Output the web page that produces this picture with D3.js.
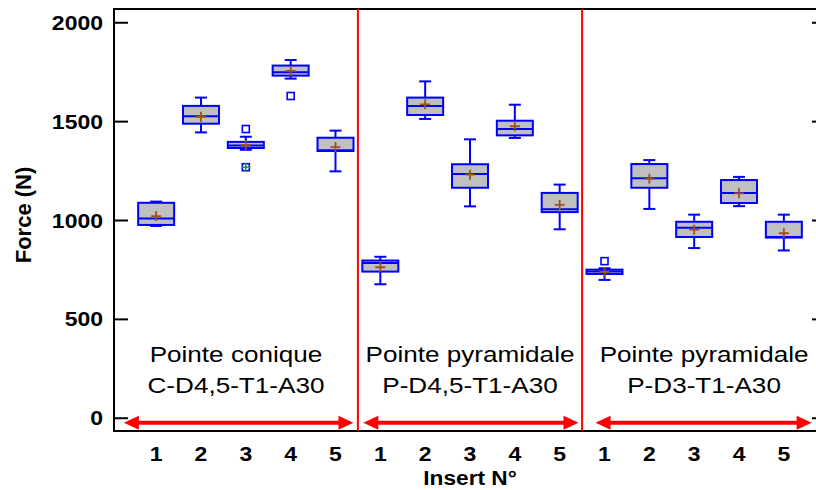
<!DOCTYPE html>
<html>
<head>
<meta charset="utf-8">
<script src="https://cdn.jsdelivr.net/npm/d3@7/dist/d3.min.js"></script>
<style>
  html, body { margin: 0; padding: 0; background: #fff; }
  svg { display: block; }
  text { font-family: "Liberation Sans", Arial, sans-serif; fill: #000; }
</style>
</head>
<body>
<svg id="chart" width="816" height="490"></svg>
<script>
// ---------- data ----------
const tickLabels = ["1","2","3","4","5","1","2","3","4","5","1","2","3","4","5"];
const whiskerLow  = [ 970, 1443, 1355, 1715, 1246,  675, 1511, 1069, 1415,  953,  697, 1056,  858, 1070,  846];
const q1          = [ 975, 1487, 1364, 1730, 1349,  739, 1531, 1163, 1428, 1040,  727, 1163,  914, 1086,  911];
const median      = [1007, 1525, 1377, 1747, 1353,  783, 1577, 1233, 1460, 1054,  740, 1211,  961, 1137,  914];
const q3          = [1087, 1577, 1395, 1781, 1416,  795, 1619, 1282, 1502, 1137,  749, 1283,  991, 1202,  991];
const whiskerHigh = [1093, 1619, 1421, 1809, 1452,  814, 1701, 1408, 1583, 1179,  756, 1303, 1027, 1218, 1027];
const means       = [1020, 1522, 1380, 1754, 1369,  761, 1585, 1229, 1474, 1076,  737, 1208,  951, 1135,  933];
// outliers: [category index, value, far?]
const outliers = [[2, 1460, false], [2, 1267, true], [3, 1627, false], [10, 792, false]];
const groupNames = [["Pointe conique", "C-D4,5-T1-A30"],
                    ["Pointe pyramidale", "P-D4,5-T1-A30"],
                    ["Pointe pyramidale", "P-D3-T1-A30"]];
const majorTicks = [0, 500, 1000, 1500, 2000];
const minorTicks = d3.range(0, 2001, 100);
const yTitle = "Force (N)";
const xTitle = "Insert N°";

// ---------- layout ----------
const L = 114, R = 826, T = 9, B = 431;
const svg = d3.select("#chart");
const x = d3.scalePoint().domain(d3.range(tickLabels.length)).range([L, R]).padding(0.94);
const xc = v => x(0) + v * x.step();            // continuous position in category units
const y = d3.scaleLinear().domain([-67, 2067]).range([B, T]);

const SX = 1.15; // horizontal text stretch
function txt(g, px, py, s, size, weight, anchor, sx) {
  return g.append("text")
    .attr("transform", `translate(${px},${py}) scale(${sx || SX},1)`)
    .attr("text-anchor", anchor || "middle")
    .style("font-size", size + "px")
    .style("font-weight", weight || "normal")
    .text(s);
}

// y axes (ticks pointing inward)
const gL = svg.append("g").attr("transform", `translate(${L},0)`);
gL.call(d3.axisRight(y).tickValues(minorTicks).tickSize(6).tickFormat(""));
gL.call(d3.axisRight(y).tickValues(majorTicks).tickSize(14).tickFormat(""));
const gR = svg.append("g").attr("transform", `translate(${R},0)`);
gR.call(d3.axisLeft(y).tickValues(minorTicks).tickSize(6).tickFormat(""));
gR.call(d3.axisLeft(y).tickValues(majorTicks).tickSize(14).tickFormat(""));
svg.selectAll(".domain").remove();
svg.selectAll(".tick line").attr("stroke", "#000").attr("stroke-width", 2);

// y tick labels
majorTicks.forEach(v => txt(svg, L - 11, y(v) + 7.5, String(v), 20, "bold", "end"));

// frame
svg.append("rect").attr("x", L).attr("y", T).attr("width", R - L).attr("height", B - T)
  .attr("fill", "none").attr("stroke", "#000").attr("stroke-width", 2);

// separators
[4.5, 9.5].forEach(v => {
  svg.append("line").attr("x1", xc(v)).attr("x2", xc(v)).attr("y1", T).attr("y2", B)
    .attr("stroke", "#ff0000").attr("stroke-width", 2);
});

// boxes
const bw = 36, cw = 12;
const gB = svg.append("g");
tickLabels.forEach((_, i) => {
  const cx = x(i);
  const g = gB.append("g");
  g.append("line").attr("x1", cx).attr("x2", cx).attr("y1", y(whiskerHigh[i])).attr("y2", y(q3[i]))
    .attr("stroke", "#0000ff").attr("stroke-width", 2);
  g.append("line").attr("x1", cx).attr("x2", cx).attr("y1", y(q1[i])).attr("y2", y(whiskerLow[i]))
    .attr("stroke", "#0000ff").attr("stroke-width", 2);
  [whiskerHigh[i], whiskerLow[i]].forEach(v => {
    g.append("line").attr("x1", cx - cw / 2).attr("x2", cx + cw / 2).attr("y1", y(v)).attr("y2", y(v))
      .attr("stroke", "#0000ff").attr("stroke-width", 2);
  });
  g.append("rect").attr("x", cx - bw / 2).attr("y", y(q3[i])).attr("width", bw)
    .attr("height", Math.max(1, y(q1[i]) - y(q3[i])))
    .attr("fill", "#c0c0c0").attr("stroke", "#0000ff").attr("stroke-width", 2);
  g.append("line").attr("x1", cx - bw / 2).attr("x2", cx + bw / 2).attr("y1", y(median[i])).attr("y2", y(median[i]))
    .attr("stroke", "#0000ff").attr("stroke-width", 2);
  // mean marker
  const my = y(means[i]);
  g.append("path").attr("d", `M${cx - 5},${my}H${cx + 5}M${cx},${my - 5}V${my + 5}`)
    .attr("stroke", "#a0501e").attr("stroke-width", 1.8).attr("fill", "none");
});
// outliers
outliers.forEach(([i, v, far]) => {
  const cx = x(i), oy = y(v);
  svg.append("rect").attr("x", cx - 3.5).attr("y", oy - 3.5).attr("width", 7).attr("height", 7)
    .attr("fill", "none").attr("stroke", "#0000ff").attr("stroke-width", 1.6);
  if (far) {
    svg.append("path").attr("d", `M${cx - 4.5},${oy}H${cx + 4.5}M${cx},${oy - 4.5}V${oy + 4.5}`)
      .attr("stroke", "#22a022").attr("stroke-width", 1.6);
  }
});

// group arrows
const arrowSpans = [[-0.72, 4.4], [4.62, 9.42], [9.8, 14.62]];
const ay = y(-25), hl = 15, hh = 7;
arrowSpans.forEach(([a, b]) => {
  const x0 = xc(a), x1 = xc(b);
  svg.append("line").attr("x1", x0 + hl - 1).attr("x2", x1 - hl + 1).attr("y1", ay).attr("y2", ay)
    .attr("stroke", "#ff0000").attr("stroke-width", 4);
  svg.append("path").attr("d", `M${x0},${ay}L${x0 + hl},${ay - hh}L${x0 + hl},${ay + hh}Z`).attr("fill", "#ff0000");
  svg.append("path").attr("d", `M${x1},${ay}L${x1 - hl},${ay - hh}L${x1 - hl},${ay + hh}Z`).attr("fill", "#ff0000");
});

// group labels
const regionEdges = [L, xc(4.5), xc(9.5), R];
groupNames.forEach((lines, k) => {
  const cx = (regionEdges[k] + regionEdges[k + 1]) / 2;
  txt(svg, cx, 362, lines[0], 22.5, "normal", "middle", 1.16);
  txt(svg, cx, 393, lines[1], 22.5, "normal", "middle", 1.16);
});

// x tick labels
tickLabels.forEach((s, i) => txt(svg, x(i), 461, s, 20, "bold", "middle"));

// axis titles
txt(svg, 470, 485, xTitle, 21, "bold", "middle", 1.08);
svg.append("text")
  .attr("transform", `translate(31,215) rotate(-90)`)
  .attr("text-anchor", "middle")
  .style("font-size", "22px").style("font-weight", "bold")
  .text(yTitle);
</script>
</body>
</html>
